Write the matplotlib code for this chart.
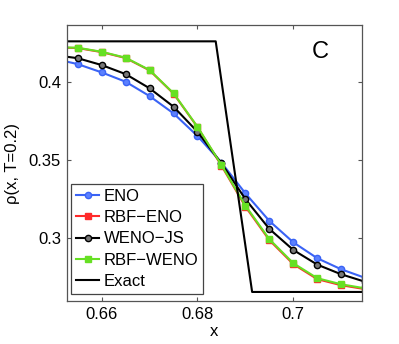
import matplotlib
matplotlib.use("Agg")
import matplotlib.pyplot as plt

plt.rcParams['font.family'] = ['Liberation Sans', 'DejaVu Sans']

x = [0.650, 0.655, 0.660, 0.665, 0.670, 0.675, 0.680, 0.685, 0.690, 0.695, 0.700, 0.705, 0.710, 0.715]
eno = [0.4152, 0.4117, 0.4064, 0.4004, 0.3912, 0.3801, 0.3656, 0.3485, 0.3288, 0.3111, 0.2974, 0.2872, 0.2801, 0.2746]
rbf_eno = [0.4224, 0.4220, 0.4194, 0.4156, 0.4077, 0.3928, 0.3713, 0.3466, 0.3203, 0.2988, 0.2834, 0.2738, 0.2699, 0.2674]
weno_js = [0.4175, 0.4155, 0.4111, 0.4053, 0.3962, 0.3844, 0.3683, 0.3481, 0.3251, 0.3060, 0.2925, 0.2831, 0.2769, 0.2721]
rbf_weno = [0.4225, 0.4222, 0.4196, 0.4158, 0.4079, 0.3930, 0.3715, 0.3470, 0.3210, 0.2994, 0.2840, 0.2744, 0.2705, 0.2679]
exact_x = [0.640, 0.6838, 0.6914, 0.720]
exact_y = [0.4263, 0.4263, 0.2656, 0.2656]

xticks = [0.66, 0.68, 0.70]
xticklabels = ['0.66', '0.68', '0.7']
yticks = [0.30, 0.35, 0.40]
yticklabels = ['0.3', '0.35', '0.4']

fig = plt.figure(figsize=(3.99, 3.44), dpi=100)
ax = fig.add_axes([0.167, 0.125, 0.740, 0.802])

ax.plot(x, eno, '-o', color='#3a63f5', lw=1.5, ms=4.5, mfc='#5b80ff', mec='#3a63f5', mew=1.0, label='ENO')
ax.plot(x, rbf_eno, '-s', color='#ff2a2a', lw=1.5, ms=4, label='RBF\u2212ENO')
ax.plot(x, weno_js, '-o', color='#000000', lw=1.5, ms=4.5, mfc='#777777', mec='#000000', mew=1.0, label='WENO\u2212JS')
ax.plot(x, rbf_weno, '-s', color='#66e023', lw=1.5, ms=4, label='RBF\u2212WENO')
ax.plot(exact_x, exact_y, '-', color='black', lw=1.5, label='Exact')

ax.set_xlim(0.6527, 0.7143)
ax.set_ylim(0.2598, 0.4367)
ax.set_xticks(xticks)
ax.set_xticklabels(xticklabels)
ax.set_yticks(yticks)
ax.set_yticklabels(yticklabels)
ax.tick_params(direction='in', top=True, right=True, length=3, width=0.8, labelsize=12, color='#555555', pad=4)
for s in ax.spines.values():
    s.set_color('#555555')
    s.set_linewidth(0.9)

ax.set_xlabel('x', fontsize=12, labelpad=2)
ax.set_ylabel('\u03c1(x, T=0.2)', fontsize=12, labelpad=6)

ax.text(0.858, 0.902, 'C', transform=ax.transAxes, fontsize=17, ha='center', va='center')

leg = ax.legend(loc='lower left', bbox_to_anchor=(0.0146, 0.025), borderaxespad=0,
                fontsize=12, handlelength=1.4, handletextpad=0.25, labelspacing=0.38,
                borderpad=0.3, fancybox=False, framealpha=1, edgecolor='#444444')
leg.get_frame().set_linewidth(0.9)

fig.savefig('out.png', dpi=100)
